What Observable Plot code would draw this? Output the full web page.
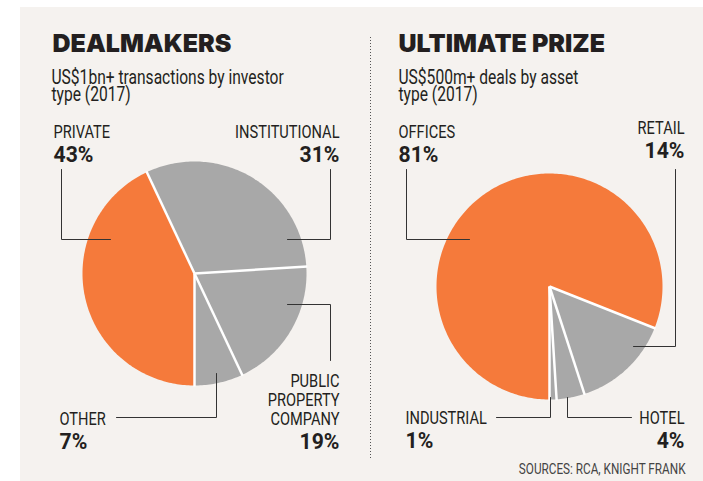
<!DOCTYPE html>
<html><head><meta charset="utf-8">
<script src="https://cdn.jsdelivr.net/npm/d3@7"></script>
<script src="https://cdn.jsdelivr.net/npm/@observablehq/plot@0.6"></script>
<style>body{margin:0;background:#fff}</style>
</head><body><div id="chart"></div>
<script>
// ---- data ----
const leftTitle = "DEALMAKERS";
const leftSubtitle = "US$1bn+ transactions by investor\ntype (2017)";
const leftCats = ["PRIVATE", "INSTITUTIONAL", "PUBLIC\nPROPERTY\nCOMPANY", "OTHER"];
const leftValues = [43, 31, 19, 7];

const rightTitle = "ULTIMATE PRIZE";
const rightSubtitle = "US$500m+ deals by asset\ntype (2017)";
const rightCats = ["OFFICES", "RETAIL", "HOTEL", "INDUSTRIAL"];
const rightValues = [81, 14, 4, 1];

const sourceNote = "SOURCES: RCA, KNIGHT FRANK";

// ---- layout ----
const W = 703, H = 481;
const ORANGE = "#f57a3b", GRAY = "#a8a8a8", INK = "#231f20", BG = "#f5f2ef";
const COND = "Roboto, 'Liberation Sans', sans-serif";
const HEAVY = "Inter, Roboto, 'Liberation Sans', sans-serif";
// font size -> horizontal squeeze, to mimic a condensed face
const squeeze = {"18.5": 0.79, "22.5": 0.94, "19.5": 0.8, "14": 0.84};

const pies = [
  {cats: leftCats, values: leftValues, cx: 194, cy: 273, r: 112, title: leftTitle, subtitle: leftSubtitle, tx: 52, sx: 51,
   labels: [
     {x: 53, ny: 137, py: 161, anchor: "start", leader: [[61,169],[61,239],[110,239]]},
     {x: 339, ny: 137, py: 161, anchor: "end", leader: [[330,169],[330,239],[287,239]]},
     {x: 339, ny: 424.5, py: 448, anchor: "end", leader: [[287,304],[330,304],[330,360]]},
     {x: 59, ny: 424, py: 448, anchor: "start", leader: [[216,373],[216,417],[116,417]]}
   ]},
  {cats: rightCats, values: rightValues, cx: 549, cy: 286, r: 113, title: rightTitle, subtitle: rightSubtitle, tx: 398, sx: 398,
   labels: [
     {x: 398, ny: 137, py: 161, anchor: "start", leader: [[406,169],[406,239],[469,239]]},
     {x: 684, ny: 133, py: 157, anchor: "end", leader: [[675,169],[675,346],[633,346]]},
     {x: 684, ny: 423, py: 447, anchor: "end", leader: [[631,417],[567,417],[567,397]]},
     {x: 405, ny: 423, py: 447, anchor: "start", leader: [[496,417],[550,417],[550,397]]}
   ]}
];

// ---- derived geometry ----
const slicePts = [], seps = [], names = [], pcts = [], leaders = [], titles = [], subs = [];
pies.forEach((p, pi) => {
  const arcs = d3.pie().sort(null).startAngle(Math.PI).endAngle(3 * Math.PI)(p.values);
  arcs.forEach((a, i) => {
    const key = pi + "-" + i;
    const group = i === 0 ? "main" : "rest";
    slicePts.push({key, group, x: p.cx, y: p.cy});
    const n = Math.max(2, Math.ceil((a.endAngle - a.startAngle) / (Math.PI / 180)));
    for (let k = 0; k <= n; k++) {
      const t = a.startAngle + (a.endAngle - a.startAngle) * k / n;
      slicePts.push({key, group, x: p.cx + p.r * Math.sin(t), y: p.cy - p.r * Math.cos(t)});
    }
    slicePts.push({key, group, x: p.cx, y: p.cy});
    seps.push({x1: p.cx, y1: p.cy, x2: p.cx + (p.r + 1) * Math.sin(a.startAngle), y2: p.cy - (p.r + 1) * Math.cos(a.startAngle)});
    const L = p.labels[i];
    names.push({x: L.x, y: L.ny, text: p.cats[i], anchor: L.anchor});
    pcts.push({x: L.x, y: L.py, text: p.values[i] + "%", anchor: L.anchor});
    L.leader.forEach(([x, y]) => leaders.push({key, x, y}));
  });
  titles.push({x: p.tx, y: 51.5, text: p.title});
  subs.push({x: p.sx, y: 100, text: p.subtitle});
});

const byAnchor = (arr, a) => arr.filter(d => d.anchor === a);
const nameOpts = {x: "x", y: "y", text: "text", lineAnchor: "bottom", fontSize: 18.5, lineHeight: 1.02, fontFamily: COND, fill: INK};
const pctOpts = {x: "x", y: "y", text: "text", lineAnchor: "bottom", fontSize: 22.5, fontWeight: "bold", fontFamily: COND, fill: INK};

const chart = Plot.plot({
  width: W, height: H, margin: 0,
  x: {domain: [0, W], range: [0, W], axis: null},
  y: {domain: [0, H], range: [0, H], axis: null},
  color: {domain: ["main", "rest"], range: [ORANGE, GRAY]},
  style: {background: "#fff", overflow: "visible"},
  marks: [
    Plot.rect([{x1: 20, x2: W, y1: 7, y2: H}], {x1: "x1", x2: "x2", y1: "y1", y2: "y2", fill: BG}),
    Plot.ruleX([370], {y1: 37, y2: 458, stroke: "#555", strokeWidth: 1, strokeDasharray: "1,2"}),
    Plot.line(slicePts, {x: "x", y: "y", z: "key", fill: "group", stroke: "none"}),
    Plot.link(seps, {x1: "x1", y1: "y1", x2: "x2", y2: "y2", stroke: "white", strokeWidth: 2.5, strokeLinecap: "butt"}),
    Plot.line(leaders, {x: "x", y: "y", z: "key", stroke: "#333", strokeWidth: 1}),
    Plot.text(titles, {x: "x", y: "y", text: "text", textAnchor: "start", lineAnchor: "bottom", fontSize: 25, fontWeight: 900, fontFamily: HEAVY, fill: INK}),
    Plot.text(subs, {x: "x", y: "y", text: "text", textAnchor: "start", lineAnchor: "bottom", fontSize: 19.5, lineHeight: 0.87, fontFamily: COND, fill: INK}),
    Plot.text(byAnchor(names, "start"), {...nameOpts, textAnchor: "start"}),
    Plot.text(byAnchor(names, "end"), {...nameOpts, textAnchor: "end"}),
    Plot.text(byAnchor(pcts, "start"), {...pctOpts, textAnchor: "start"}),
    Plot.text(byAnchor(pcts, "end"), {...pctOpts, textAnchor: "end"}),
    Plot.text([sourceNote], {x: () => 685, y: () => 473, text: d => d, textAnchor: "end", lineAnchor: "bottom", fontSize: 14, fontFamily: COND, fill: "#444"})
  ]
});

// narrow the body-text glyphs to mimic a condensed face
d3.select(chart).selectAll("g").each(function () {
  const fs = this.getAttribute("font-size");
  if (fs == null || !(String(+fs) in squeeze)) return;
  const s = squeeze[String(+fs)];
  d3.select(this).selectAll(":scope > text").each(function () {
    const t = this.getAttribute("transform");
    const x = +(this.getAttribute("x") || 0), y = +(this.getAttribute("y") || 0);
    this.removeAttribute("x"); this.removeAttribute("y");
    this.setAttribute("transform", `${t || ""} translate(${x},${y}) scale(${s},1)`);
  });
});
document.getElementById("chart").append(chart);
</script>
</body></html>
